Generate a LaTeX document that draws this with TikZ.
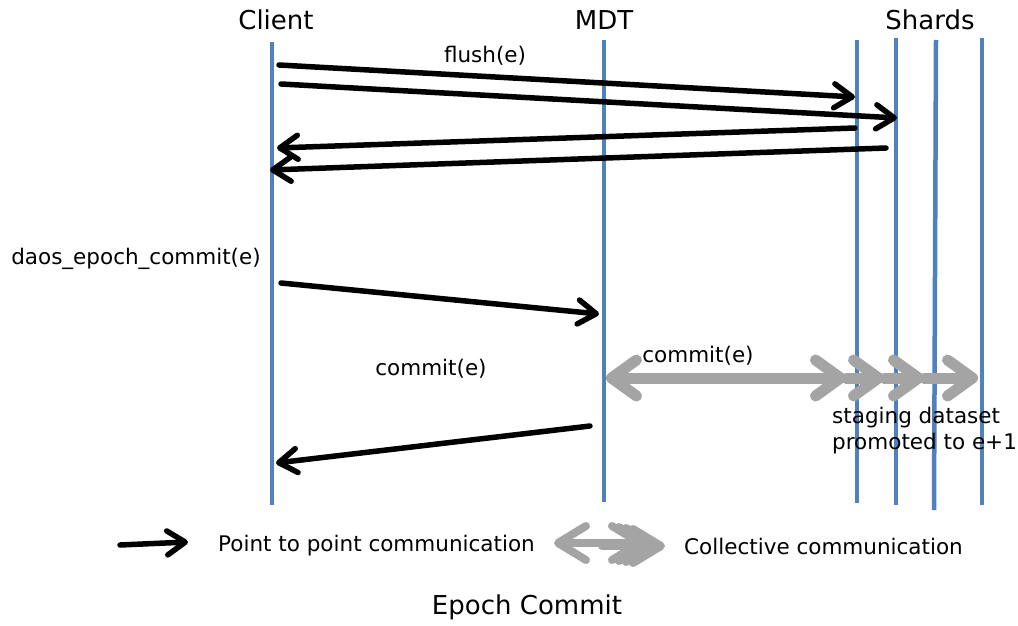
\documentclass[tikz,border=0pt]{standalone}
\usepackage{fontspec}
\setmainfont{DejaVu Sans}
\usetikzlibrary{arrows.meta}
\definecolor{lifeblue}{HTML}{4F81BD}
\definecolor{collgray}{HTML}{A4A4A4}
\begin{document}
\begin{tikzpicture}[x=1pt,y=-1pt,
  lifeline/.style={draw=lifeblue, line width=4.5pt},
  msg/.style={draw=black, line width=5.5pt, line cap=round,
    -{Straight Barb[length=18pt,width=24pt,round]}},
  collhead/.tip={Straight Barb[length=25pt,width=36pt,round]},
  leghead/.tip={Straight Barb[length=28pt,width=34pt,round]},
  coll/.style={draw=collgray, line width=11pt, line cap=round,
    preaction={draw=black, opacity=0.12, transform canvas={shift={(1.5pt,-3pt)}}}},
  legcoll/.style={draw=collgray, line width=8pt, line cap=round,
    preaction={draw=black, opacity=0.15, transform canvas={shift={(1.5pt,-3pt)}}}},
  hdr/.style={font=\fontsize{26}{30}\selectfont, inner sep=0pt},
  lbl/.style={font=\fontsize{21.5}{26}\selectfont, inner sep=0pt},
]
\useasboundingbox (0,0) rectangle (1018,626);

% lifelines
\coordinate (cliT) at (272,42);  \coordinate (cliB) at (272,505);
\coordinate (mdtT) at (604,40);  \coordinate (mdtB) at (604,502);
\coordinate (s1T) at (857,40);   \coordinate (s1B) at (857,503);
\coordinate (s2T) at (896,38);   \coordinate (s2B) at (896,505);
\coordinate (s3T) at (936,40);   \coordinate (s3B) at (934,510);
\coordinate (s4T) at (982,38);   \coordinate (s4B) at (982,505);
\foreach \l in {cli,mdt,s1,s2,s3,s4} \draw[lifeline] (\l T) -- (\l B);

% headers
\node[hdr] (hcli) at (276,20) {Client};
\node[hdr] (hmdt) at (604,20) {MDT};
\node[hdr] (hsh) at (930,20) {Shards};

% flush exchange
\node[lbl] (lflush) at (485,56) {flush(e)};
\coordinate (f1a) at (279,65);  \coordinate (f1b) at (855,97);
\coordinate (f2a) at (281,84);  \coordinate (f2b) at (897,118);
\coordinate (r1a) at (855,128); \coordinate (r1b) at (277,148);
\coordinate (r2a) at (886,148); \coordinate (r2b) at (270,170);
\draw[msg] (f1a) -- (f1b);
\draw[msg] (f2a) -- (f2b);
\draw[msg] (r1a) -- (r1b);
\draw[msg] (r2a) -- (r2b);

% epoch commit request
\node[lbl] (ldaos) at (136,259) {daos\_epoch\_commit(e)};
\coordinate (dca) at (281,283); \coordinate (dcb) at (599,314);
\draw[msg] (dca) -- (dcb);

\node[lbl] (lcmt) at (431,369) {commit(e)};

% collective commit to the shards
\coordinate (g0) at (606,378);
\coordinate (g1) at (846,378);
\coordinate (g2) at (884,378);
\coordinate (g3) at (924,378);
\coordinate (g4) at (978,378);
\draw[coll, {collhead}-{collhead}] (g0) -- (g1);
\draw[coll, -{collhead}] (g1) -- (g2);
\draw[coll, -{collhead}] (g2) -- (g3);
\draw[coll, -{collhead}] (g3) -- (g4);
\node[lbl] (lcoll) at (698,356) {commit(e)};
\node[lbl, anchor=west, align=left] (lstage) at (832,431)
  {staging dataset\\promoted to e+1};

% reply to client
\coordinate (rpa) at (590,426); \coordinate (rpb) at (276,463);
\draw[msg] (rpa) -- (rpb);

% legend
\coordinate (lga) at (120,545); \coordinate (lgb) at (188,542);
\draw[msg] (lga) -- (lgb);
\node[lbl, anchor=west] (lp2p) at (218,546) {Point to point communication};
\coordinate (lc0) at (554,543);
\coordinate (lc1) at (602,543);
\foreach \k in {3,2,1,0}
  \draw[legcoll, -{leghead}] (lc1) ++(0,\k) -- ++(42+7*\k,0);
\draw[legcoll, {leghead}-] (lc0) -- (lc1);
\node[lbl, anchor=west] (lcol) at (684,546) {Collective communication};

\node[hdr] (title) at (527,607) {Epoch Commit};
\end{tikzpicture}
\end{document}
